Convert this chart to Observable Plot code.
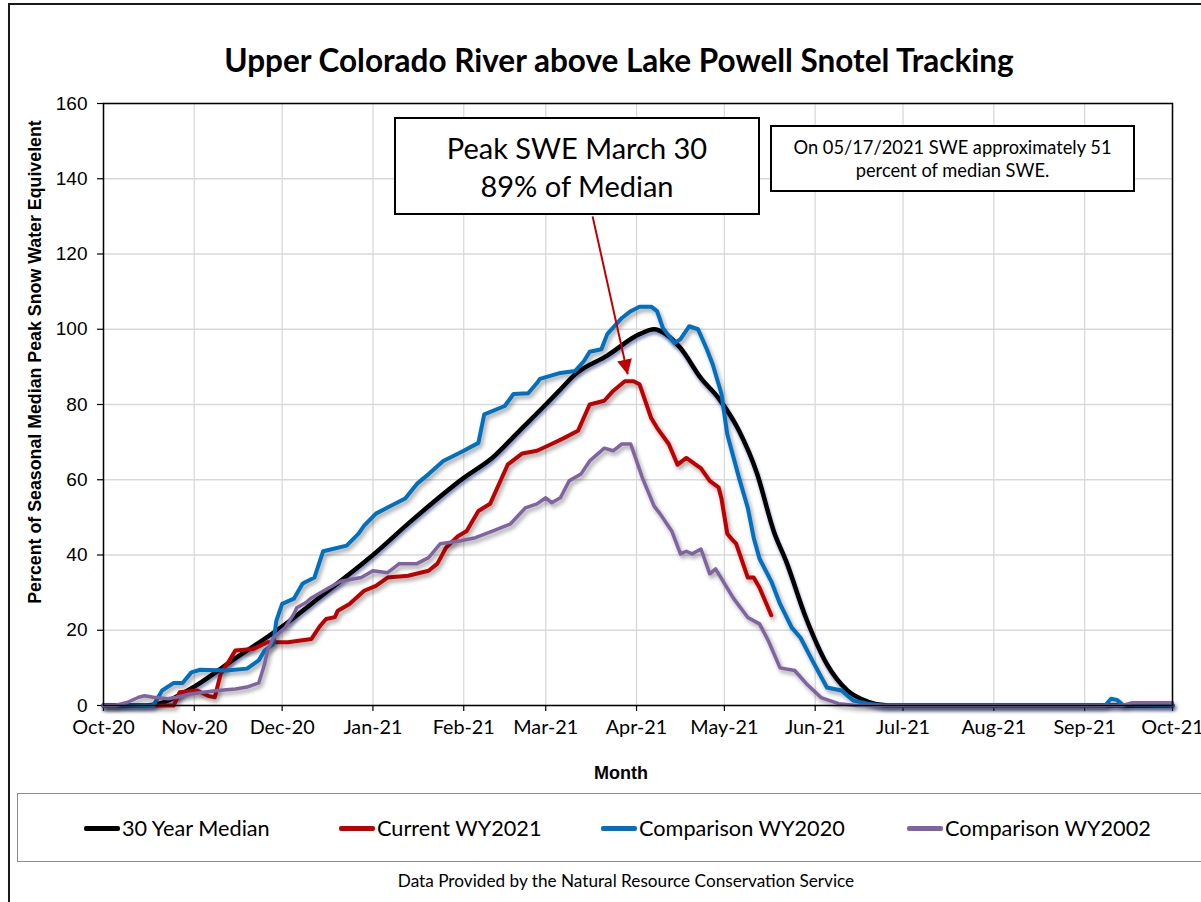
<!DOCTYPE html>
<html>
<head>
<meta charset="utf-8">
<script src="https://cdn.jsdelivr.net/npm/d3@7"></script>
<script src="https://cdn.jsdelivr.net/npm/@observablehq/plot@0.6"></script>
<style>
  html, body { margin:0; padding:0; background:#fff; width:1201px; height:902px; overflow:hidden; }
  #page { position:relative; width:1201px; height:902px; font-family: Lato, "Open Sans", sans-serif; color:#000; }
  #frame { position:absolute; left:8px; top:3px; width:1300px; height:1000px; border-left:2px solid #1a1a1a; border-top:2px solid #1a1a1a; box-shadow: 2px 2px 3px rgba(0,0,0,0.25); }
  #chart { position:absolute; left:0; top:0; }
  #title { position:absolute; left:0; width:1238px; top:41px; text-align:center; font-weight:bold; font-size:31.5px; font-family: Lato, sans-serif; }
  #ytitle { position:absolute; left:35px; top:362px; transform: translate(-50%,-50%) rotate(-90deg); white-space:nowrap; font-family:"Liberation Sans", Arial, sans-serif; font-weight:bold; font-size:17.8px; }
  #xtitle { position:absolute; left:621px; top:773px; transform: translate(-50%,-50%); font-family:"Liberation Sans", Arial, sans-serif; font-weight:bold; font-size:18px; }
  .box { position:absolute; background:#fff; border:2px solid #000; text-align:center; font-family: Lato, sans-serif; box-sizing:border-box; }
  #box1 { left:394px; top:117px; width:366px; height:98px; font-size:29px; line-height:38px; padding-top:10px; }
  #box2 { left:770px; top:125px; width:365px; height:67px; font-size:18.3px; line-height:23px; padding-top:9px; }
  #legend { position:absolute; left:17px; top:793px; width:1300px; height:69px; border:1.5px solid #8c8c8c; box-sizing:border-box; }
  .litem { position:absolute; top:0; height:68px; display:flex; align-items:center; font-size:21.7px; font-family: Lato, sans-serif; }
  .lsw { width:36px; height:5px; border-radius:2px; margin-right:2px; }
  #caption { position:absolute; left:0; width:1252px; top:870px; text-align:center; font-size:17.2px; font-family: Lato, sans-serif; }
  .ln-med { filter: drop-shadow(1px 3px 1.5px rgba(40,60,150,0.55)); }
  .ln-s { filter: drop-shadow(2px 3px 2px rgba(0,0,0,0.38)); }
</style>
</head>
<body>
<div id="page">
  <div id="frame"></div>
  <div id="chart"></div>
  <div id="title"></div>
  <div id="ytitle"></div>
  <div id="xtitle"></div>
  <div id="box1" class="box"></div>
  <div id="box2" class="box"></div>
  <div id="legend"></div>
  <div id="caption"></div>
</div>
<script>
// ---------- Text ----------
const titleText = "Upper Colorado River above Lake Powell Snotel Tracking";
const yTitle = "Percent of Seasonal Median Peak Snow Water Equivelent";
const xTitle = "Month";
const captionText = "Data Provided by the Natural Resource Conservation Service";
const peakNote = ["Peak SWE March 30", "89% of Median"];
const dateNote = ["On 05/17/2021 SWE approximately 51", "percent of median SWE."];

// ---------- Axes ----------
const xTickDates = ["2020-10-01","2020-11-01","2020-12-01","2021-01-01","2021-02-01","2021-03-01","2021-04-01","2021-05-01","2021-06-01","2021-07-01","2021-08-01","2021-09-01","2021-10-01"];
const xTickLabels = ["Oct-20","Nov-20","Dec-20","Jan-21","Feb-21","Mar-21","Apr-21","May-21","Jun-21","Jul-21","Aug-21","Sep-21","Oct-21"];
const yTicks = [0,20,40,60,80,100,120,140,160];

// ---------- Series ----------
const seriesNames = ["30 Year Median","Current WY2021","Comparison WY2020","Comparison WY2002"];
const seriesColors = ["#000000","#c00000","#0070c0","#8064a2"];

const medianDates = ["2020-10-01","2020-10-15","2020-10-20","2020-10-25","2020-11-01","2020-11-15","2020-12-01","2020-12-15","2021-01-01","2021-01-14","2021-02-01","2021-02-11","2021-02-20","2021-03-01","2021-03-06","2021-03-11","2021-03-22","2021-04-02","2021-04-07","2021-04-11","2021-04-16","2021-04-23","2021-04-29","2021-05-06","2021-05-12","2021-05-18","2021-05-22","2021-05-29","2021-06-05","2021-06-12","2021-06-19","2021-06-26","2021-10-01"];
const medianValues = [0,0,0.5,2,5,12.5,21,29.5,40,49,60.5,66,73,80,84,88,93,98.7,100,98.7,95,87,81.7,73,62,46,38.5,23,11,4,1,0,0];

const currentDates = ["2020-10-01","2020-10-25","2020-10-27","2020-11-02","2020-11-06","2020-11-08","2020-11-10","2020-11-13","2020-11-15","2020-11-21","2020-11-26","2020-12-03","2020-12-11","2020-12-14","2020-12-16","2020-12-19","2020-12-20","2020-12-24","2020-12-29","2021-01-02","2021-01-06","2021-01-13","2021-01-20","2021-01-23","2021-01-26","2021-01-30","2021-02-02","2021-02-06","2021-02-10","2021-02-16","2021-02-21","2021-02-26","2021-03-03","2021-03-07","2021-03-12","2021-03-16","2021-03-21","2021-03-24","2021-03-28","2021-03-31","2021-04-02","2021-04-06","2021-04-08","2021-04-12","2021-04-15","2021-04-18","2021-04-23","2021-04-26","2021-04-29","2021-04-30","2021-05-02","2021-05-04","2021-05-05","2021-05-09","2021-05-11","2021-05-13","2021-05-17"];
const currentValues = [0,0,3.5,4,2.5,2.2,8.4,12,14.6,15,16.8,16.8,17.7,21.2,23,23.5,25.2,27,30.5,31.8,34,34.5,35.8,37.7,42,45,46.4,51.7,53.6,64,67,67.7,69.5,71,73,80,81,83.6,86.2,86.2,85.4,76.4,73.8,69.5,64,65.8,63,59.7,58,55,45.6,43.8,43,34,34,31.3,24];

const wy2020Dates = ["2020-10-01","2020-10-18","2020-10-21","2020-10-25","2020-10-28","2020-10-31","2020-11-03","2020-11-12","2020-11-19","2020-11-23","2020-11-25","2020-11-28","2020-11-29","2020-12-01","2020-12-05","2020-12-08","2020-12-12","2020-12-15","2020-12-23","2020-12-27","2020-12-29","2021-01-02","2021-01-06","2021-01-12","2021-01-16","2021-01-20","2021-01-25","2021-02-01","2021-02-06","2021-02-08","2021-02-15","2021-02-18","2021-02-23","2021-02-26","2021-02-27","2021-03-06","2021-03-11","2021-03-14","2021-03-16","2021-03-20","2021-03-22","2021-03-27","2021-03-30","2021-04-02","2021-04-06","2021-04-08","2021-04-10","2021-04-14","2021-04-16","2021-04-19","2021-04-22","2021-04-25","2021-04-27","2021-04-30","2021-05-02","2021-05-06","2021-05-09","2021-05-11","2021-05-13","2021-05-17","2021-05-20","2021-05-24","2021-05-27","2021-05-31","2021-06-05","2021-06-10","2021-06-14","2021-06-19","2021-06-24","2021-09-08","2021-09-10","2021-09-12","2021-09-14","2021-10-01"];
const wy2020Values = [0,0,4,6,6,8.8,9.5,9.3,9.8,12,14.6,16.4,22.5,27,28.4,32.4,34,41,42.5,45.6,47.8,51,52.6,55,58.9,61.5,65,67.7,69.8,77.4,79.6,82.8,83,85.7,86.8,88.4,88.9,91.5,94,94.7,98.7,103,104.8,106,106,104.8,100.3,96.3,97.4,100.8,100,94.7,90.7,82.8,72,60.5,52.5,44.6,39,33,27,20.7,18,12,4.8,4,1.3,0.5,0,0,1.8,1.5,0.2,0];

const wy2002Dates = ["2020-10-01","2020-10-05","2020-10-09","2020-10-13","2020-10-15","2020-10-18","2020-10-23","2020-10-26","2020-10-30","2020-11-04","2020-11-09","2020-11-15","2020-11-19","2020-11-23","2020-11-25","2020-11-26","2020-11-28","2020-12-02","2020-12-05","2020-12-06","2020-12-09","2020-12-11","2020-12-17","2020-12-21","2020-12-28","2021-01-01","2021-01-06","2021-01-10","2021-01-16","2021-01-20","2021-01-24","2021-01-31","2021-02-05","2021-02-11","2021-02-17","2021-02-22","2021-02-26","2021-03-01","2021-03-03","2021-03-06","2021-03-09","2021-03-13","2021-03-16","2021-03-21","2021-03-24","2021-03-27","2021-03-30","2021-04-01","2021-04-03","2021-04-07","2021-04-09","2021-04-13","2021-04-16","2021-04-18","2021-04-20","2021-04-23","2021-04-26","2021-04-28","2021-05-04","2021-05-09","2021-05-13","2021-05-16","2021-05-20","2021-05-25","2021-05-29","2021-06-03","2021-06-09","2021-06-15","2021-09-14","2021-09-17","2021-10-01"];
const wy2002Values = [0,0,0.8,2.2,2.6,2.2,1.8,2.2,3,3.5,4,4.4,4.9,6,11,14.6,18,20.7,24.3,26,27.3,28.6,31.3,33,34,35.8,35.3,37.7,37.7,39.3,43,43.8,44.6,46.4,48.3,52.5,53.6,55.2,53.9,55.2,59.7,61.5,65,68.4,67.7,69.5,69.5,65,60.5,53,51,46.4,40.3,41,40.3,41.6,35,36.3,28.6,23.4,21.7,17.2,10,9.3,5.8,2.1,0.5,0,0,0.7,0.7];

// Peak annotation arrow (date, value)
const arrowFrom = ["2021-03-17", 130];
const arrowTo = ["2021-03-29", 88];

// ---------- Build ----------
const parse = s => new Date(s + "T00:00:00Z");
function rows(dates, values, name) { return dates.map((d, i) => ({date: parse(d), value: values[i], series: name})); }
const median = rows(medianDates, medianValues, seriesNames[0]);
const current = rows(currentDates, currentValues, seriesNames[1]);
const wy2020 = rows(wy2020Dates, wy2020Values, seriesNames[2]);
const wy2002 = rows(wy2002Dates, wy2002Values, seriesNames[3]);

const tickDates = xTickDates.map(parse);
const labelByTime = new Map(tickDates.map((d, i) => [+d, xTickLabels[i]]));

const chart = Plot.plot({
  width: 1201,
  height: 790,
  marginLeft: 103,
  marginRight: 29,
  marginTop: 103,
  marginBottom: 85,
  style: {background: "transparent", overflow: "visible", fontFamily: "Lato, sans-serif"},
  x: {type: "utc", domain: [tickDates[0], tickDates[tickDates.length - 1]]},
  y: {domain: [0, 160]},
  marks: [
    Plot.gridX(tickDates, {stroke: "#d9d9d9", strokeOpacity: 1, strokeWidth: 1.3}),
    Plot.gridY(yTicks, {stroke: "#d9d9d9", strokeOpacity: 1, strokeWidth: 1.3}),
    Plot.axisX(tickDates, {tickSize: 6, tickPadding: 8, tickFormat: d => labelByTime.get(+d), fontSize: 19.8, fontFamily: "Lato, sans-serif", label: null, stroke: "#000", fill: "#000", strokeWidth: 1.2}),
    Plot.axisY(yTicks, {tickSize: 6, tickPadding: 10, fontSize: 19, fontFamily: "Liberation Sans, Arial, sans-serif", label: null, fill: "#000", strokeWidth: 1.2}),
    Plot.lineY(median, {x: "date", y: "value", stroke: seriesColors[0], strokeWidth: 4.5, curve: "monotone-x", className: "ln-med"}),
    Plot.lineY(current, {x: "date", y: "value", stroke: seriesColors[1], strokeWidth: 4, className: "ln-s"}),
    Plot.lineY(wy2020, {x: "date", y: "value", stroke: seriesColors[2], strokeWidth: 4, className: "ln-s"}),
    Plot.lineY(wy2002, {x: "date", y: "value", stroke: seriesColors[3], strokeWidth: 3.5, className: "ln-s"}),
    Plot.link([{x1: parse(arrowFrom[0]), y1: arrowFrom[1], x2: parse(arrowTo[0]), y2: arrowTo[1]}], {x1: "x1", y1: "y1", x2: "x2", y2: "y2", stroke: "#c00000", strokeWidth: 2, className: "peak-arrow"}),
    Plot.frame({stroke: "#000", strokeWidth: 1.5})
  ]
});
document.getElementById("chart").appendChild(chart);

// filled triangular arrow head
const svg = d3.select(chart);
const defs = svg.append("defs");
defs.append("marker").attr("id", "tri").attr("viewBox", "0 0 10 10").attr("refX", 10).attr("refY", 5)
  .attr("markerWidth", 7.5).attr("markerHeight", 7.5).attr("markerUnits", "strokeWidth").attr("orient", "auto")
  .append("path").attr("d", "M0,0 L10,5 L0,10 Z").attr("fill", "#c00000");
svg.selectAll(".peak-arrow path").attr("marker-end", "url(#tri)");

// texts
document.getElementById("title").textContent = titleText;
document.getElementById("ytitle").textContent = yTitle;
document.getElementById("xtitle").textContent = xTitle;
document.getElementById("caption").textContent = captionText;
document.getElementById("box1").innerHTML = peakNote.map(t => `<div>${t}</div>`).join("");
document.getElementById("box2").innerHTML = dateNote.map(t => `<div>${t}</div>`).join("");

// legend
const legendX = [66, 321, 583, 889];
const legend = document.getElementById("legend");
seriesNames.forEach((name, i) => {
  const it = document.createElement("div");
  it.className = "litem";
  it.style.left = legendX[i] + "px";
  it.innerHTML = `<span class="lsw" style="background:${seriesColors[i]}"></span><span>${name}</span>`;
  legend.appendChild(it);
});
</script>
</body>
</html>
